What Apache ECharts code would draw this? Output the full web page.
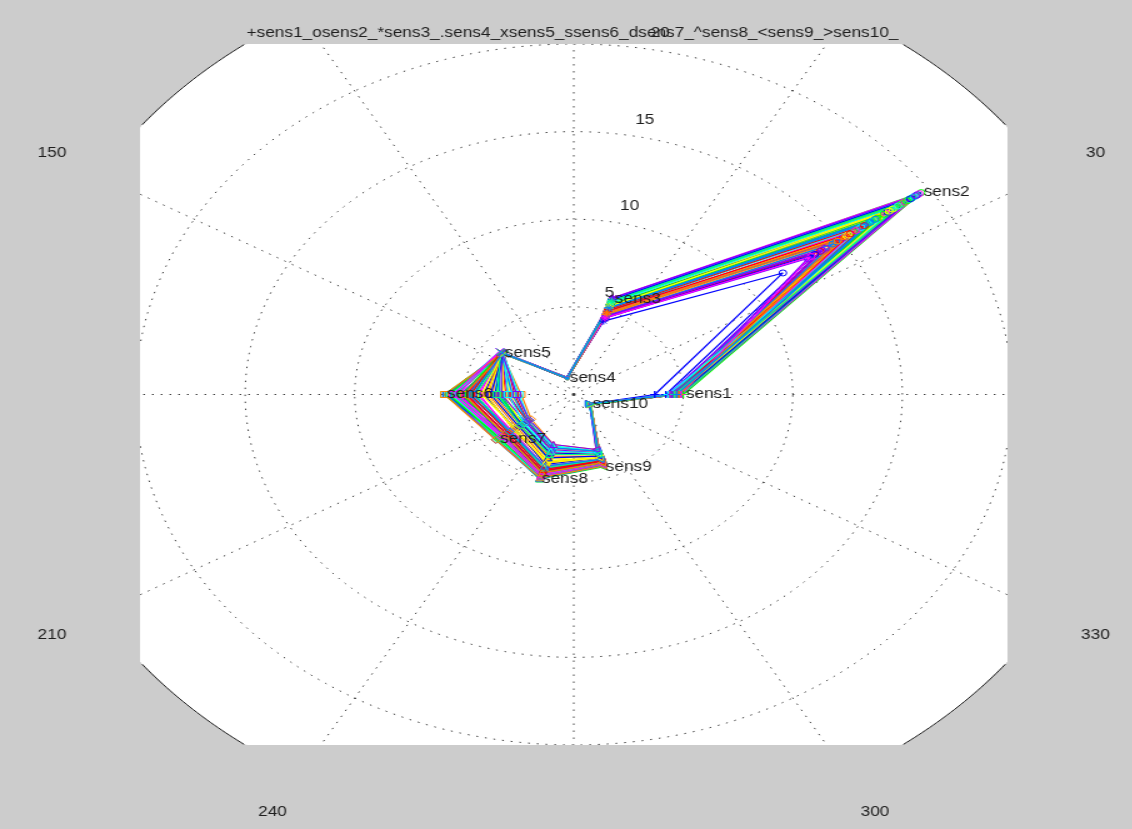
<!DOCTYPE html>
<html>
<head>
<meta charset="utf-8">
<script src="https://cdn.jsdelivr.net/npm/echarts@6/dist/echarts.min.js"></script>
<style>
  html, body { margin: 0; padding: 0; background: #cccccc; overflow: hidden; }
  #wrap { width: 1132px; height: 829px; overflow: hidden; background: #cccccc; }
  /* the figure is laid out narrow and widened 1.25x, so the polar grid shows as an ellipse */
  #chart { width: 906px; height: 829px; transform: scaleX(1.25); transform-origin: 0 0; }
</style>
</head>
<body>
<div id="wrap"><div id="chart"></div></div>
<script>
// ---- sensors, their spoke angles (degrees) and marker codes ----
const sensors = ['sens1', 'sens2', 'sens3', 'sens4', 'sens5', 'sens6', 'sens7', 'sens8', 'sens9', 'sens10'];
const sensorAngles = [0, 36, 72, 108, 144, 180, 216, 252, 288, 324];
const markers = ['+', 'o', '*', '.', 'x', 's', 'd', '^', '<', '>'];
const titleText = '+sens1_osens2_*sens3_.sens4_xsens5_ssens6_dsens7_^sens8_<sens9_>sens10_';

// ---- polar grid ticks ----
const radialTicks = [5, 10, 15, 20];
const rMax = 25;
const angleTicks = [0, 30, 60, 90, 120, 150, 180, 210, 240, 270, 300, 330];

// ---- plot box limits (data units) ----
const xLim = [-19.8, 19.8];
const yLim = [-20, 20];

// ---- radius of each sensor, one value per sweep ----
const sens1R = [5.0, 4.8, 4.6, 4.9, 4.7, 4.5, 4.8, 4.6, 4.9, 4.4, 4.7, 3.7, 4.5, 4.8, 4.6, 4.9, 4.7, 4.4, 4.8, 4.6,
                4.5, 4.9, 4.7, 4.6, 4.8, 4.5, 4.3, 4.7, 4.9, 4.6, 4.8, 4.2, 4.7, 4.6, 4.9, 4.4, 4.7, 4.8, 4.6, 4.5,
                4.8, 4.6, 4.9, 4.5, 4.7, 4.8, 4.4, 4.6, 4.9, 4.7, 4.5, 4.8, 4.6, 4.3, 4.9, 4.7, 4.5, 4.8, 4.6, 4.7];
const sens2R = [19.6, 18.9, 17.2, 19.3, 15.8, 17.2, 18.6, 14.5, 19.0, 16.8, 18.4, 11.8, 15.0, 19.2, 17.6, 18.8, 14.2, 16.0, 18.1, 16.3,
                15.8, 19.4, 13.9, 16.9, 18.7, 15.4, 15.2, 18.3, 19.1, 14.6, 17.1, 13.6, 18.5, 16.2, 19.5, 15.5, 13.2, 18.6, 16.8, 14.8,
                18.8, 17.7, 16.4, 19.2, 15.9, 18.0, 14.0, 14.9, 18.9, 16.7, 17.5, 19.0, 15.6, 18.3, 13.4, 17.8, 19.3, 15.3, 18.5, 17.0];
const sens3R = [5.7, 5.5, 5.0, 5.6, 4.8, 5.2, 5.6, 4.7, 5.7, 5.0, 5.5, 4.4, 4.9, 5.6, 5.2, 5.8, 4.7, 4.9, 5.4, 5.1,
                4.8, 5.7, 4.6, 5.1, 5.6, 4.9, 4.9, 5.4, 5.7, 4.7, 5.3, 4.6, 5.5, 5.1, 5.8, 4.9, 4.6, 5.6, 5.2, 5.0,
                5.6, 5.4, 5.1, 5.7, 4.9, 5.5, 4.7, 4.8, 5.6, 5.2, 5.4, 5.7, 5.0, 5.5, 4.6, 5.3, 5.8, 4.9, 5.6, 5.2];
const sens4R = [0.97, 1.0, 0.95, 1.02, 0.98, 0.96, 1.01, 0.99, 0.97, 1.03, 0.94, 1.0, 0.98, 0.96, 1.02, 0.99, 0.97, 1.01, 0.95, 1.0,
                0.98, 1.03, 0.96, 0.99, 1.01, 0.97, 1.0, 0.98, 0.95, 1.02, 0.96, 0.99, 1.01, 0.97, 1.0, 0.98, 1.03, 0.96, 0.99, 1.0,
                0.99, 0.96, 1.02, 0.98, 1.0, 0.97, 1.01, 0.95, 0.99, 1.03, 0.98, 0.96, 1.0, 0.97, 1.02, 0.99, 0.95, 1.01, 0.98, 1.0];
const sens5R = [4.03, 4.1, 3.95, 4.15, 4.0, 3.9, 4.12, 4.05, 3.98, 4.18, 3.92, 4.08, 4.02, 3.96, 4.14, 4.06, 3.9, 4.1, 4.0, 4.16,
                3.94, 4.04, 4.12, 3.98, 4.08, 4.0, 3.88, 4.14, 4.02, 3.96, 4.1, 4.06, 3.92, 4.18, 4.0, 4.04, 3.98, 4.12, 3.94, 4.08,
                4.06, 3.96, 4.12, 4.0, 4.16, 3.92, 4.08, 4.02, 3.9, 4.14, 4.04, 3.98, 4.1, 3.94, 4.18, 4.0, 4.06, 3.96, 4.12, 4.02];
const sens6R = [5.9, 5.4, 4.8, 3.6, 5.7, 4.2, 3.0, 5.1, 2.6, 4.5, 3.3, 5.8, 4.0, 2.8, 5.3, 3.8, 4.9, 2.4, 5.6, 3.4,
                4.6, 5.0, 3.1, 5.5, 4.3, 2.9, 5.2, 3.7, 4.7, 5.8, 3.5, 4.1, 2.7, 5.6, 4.4, 3.2, 5.0, 3.9, 5.4, 4.8,
                5.7, 3.6, 4.9, 2.5, 5.3, 4.0, 3.3, 5.9, 4.5, 2.8, 5.1, 3.8, 4.7, 3.0, 5.5, 4.2, 2.6, 5.0, 3.5, 4.6];
const sens7R = [4.3, 4.0, 3.6, 2.8, 4.4, 3.3, 2.6, 3.9, 2.5, 3.7, 3.0, 4.2, 3.4, 2.7, 4.1, 3.1, 3.8, 2.4, 4.3, 2.9,
                3.5, 4.0, 2.6, 4.2, 3.6, 2.5, 3.9, 3.0, 3.7, 4.4, 2.8, 3.3, 2.6, 4.1, 3.5, 2.9, 3.8, 3.2, 4.0, 3.6,
                4.2, 2.9, 3.8, 2.5, 4.0, 3.4, 2.7, 4.4, 3.6, 2.6, 3.9, 3.1, 3.7, 2.8, 4.1, 3.3, 2.5, 3.9, 3.0, 3.6];
const sens8R = [5.07, 4.8, 4.5, 3.6, 4.9, 4.2, 3.3, 4.7, 3.1, 4.4, 3.8, 5.0, 4.1, 3.4, 4.8, 3.9, 4.6, 3.0, 4.9, 3.5,
                4.3, 4.7, 3.2, 5.0, 4.4, 3.3, 4.6, 3.7, 4.5, 5.05, 3.6, 4.2, 3.4, 4.8, 4.3, 3.5, 4.7, 4.0, 4.9, 4.5,
                4.9, 3.5, 4.6, 3.1, 4.8, 4.0, 3.3, 5.0, 4.4, 3.2, 4.7, 3.8, 4.5, 3.4, 4.9, 4.1, 3.0, 4.7, 3.6, 4.3];
const sens9R = [4.35, 4.1, 3.9, 3.6, 4.2, 3.8, 3.5, 4.0, 3.4, 3.9, 3.7, 4.25, 3.8, 3.5, 4.1, 3.7, 4.0, 3.3, 4.2, 3.6,
                3.9, 4.1, 3.4, 4.3, 3.9, 3.5, 4.0, 3.7, 3.9, 4.3, 3.6, 3.8, 3.5, 4.2, 3.9, 3.6, 4.1, 3.8, 4.2, 4.0,
                4.2, 3.6, 4.0, 3.4, 4.1, 3.8, 3.5, 4.3, 3.9, 3.4, 4.1, 3.7, 4.0, 3.5, 4.2, 3.8, 3.3, 4.1, 3.6, 3.9];
const sens10R = [0.92, 0.95, 0.9, 0.97, 0.88, 0.93, 0.96, 0.9, 0.94, 0.87, 0.95, 0.91, 0.98, 0.89, 0.93, 0.96, 0.9, 0.94, 0.92, 0.88,
                 0.97, 0.91, 0.95, 0.89, 0.93, 0.96, 0.9, 0.94, 0.92, 0.87, 0.95, 0.91, 0.97, 0.9, 0.93, 0.96, 0.89, 0.94, 0.92, 0.95,
                 0.93, 0.9, 0.96, 0.88, 0.94, 0.91, 0.97, 0.89, 0.95, 0.92, 0.9, 0.96, 0.88, 0.94, 0.91, 0.97, 0.9, 0.93, 0.95, 0.89];

// sweep colours, cycled
const lineColors = ['#00ff00', '#0000ff', '#ff0000', '#00ffff', '#ff00ff', '#ffff00', '#8000ff', '#ff8000', '#00ff80', '#0080ff'];

const radii = [sens1R, sens2R, sens3R, sens4R, sens5R, sens6R, sens7R, sens8R, sens9R, sens10R];
const FONT = '13.8px "Liberation Sans", Arial, sans-serif';
const TEXT_COLOR = '#1e1e1e';
const FIGURE_BG = '#cccccc';

function toXY(r, deg) {
  const t = deg * Math.PI / 180;
  return [r * Math.cos(t), r * Math.sin(t)];
}
function clamp(v, lim) { return Math.max(lim[0], Math.min(lim[1], v)); }
function inBox(p) {
  return p[0] >= xLim[0] && p[0] <= xLim[1] && p[1] >= yLim[0] && p[1] <= yLim[1];
}

// marker code -> ECharts symbol
const markerShapes = {
  '+': { symbol: 'path://M5,0V10M0,5H10', size: 7, filled: false },
  'o': { symbol: 'circle', size: 6, filled: false },
  '*': { symbol: 'path://M5,0V10M0,5H10M1.5,1.5L8.5,8.5M8.5,1.5L1.5,8.5', size: 7, filled: false },
  '.': { symbol: 'circle', size: 3, filled: true },
  'x': { symbol: 'path://M0,0L10,10M10,0L0,10', size: 6, filled: false },
  's': { symbol: 'rect', size: 6, filled: false },
  'd': { symbol: 'diamond', size: 7, filled: false },
  '^': { symbol: 'triangle', size: 6, filled: false },
  '<': { symbol: 'path://M0,5L10,0L10,10Z', size: 6, filled: false },
  '>': { symbol: 'path://M10,5L0,0L0,10Z', size: 6, filled: false }
};

const series = [];

// background disc, dotted rings and spokes, all kept inside the plot box
series.push({
  type: 'custom',
  coordinateSystem: 'cartesian2d',
  data: [[0, 0]],
  clip: false,
  silent: true,
  z: 1,
  animation: false,
  renderItem: function (params, api) {
    const children = [];
    const dotted = { fill: null, stroke: '#3a3a3a', lineWidth: 1, lineDash: [1.4, 5.6] };
    const solid = { fill: null, stroke: '#1a1a1a', lineWidth: 1 };

    // disc of radius rMax intersected with the box
    const disc = [];
    for (let d = 0; d < 360; d += 0.5) {
      const p = toXY(rMax, d);
      disc.push(api.coord([clamp(p[0], xLim), clamp(p[1], yLim)]));
    }
    children.push({ type: 'polygon', shape: { points: disc }, style: { fill: '#ffffff', stroke: null } });

    // circle drawn only where it lies inside the box
    const arcs = function (r, style) {
      let run = [];
      for (let d = 0; d <= 360; d += 0.5) {
        const p = toXY(r, d);
        if (inBox(p)) {
          run.push(api.coord(p));
        } else if (run.length) {
          if (run.length > 1) children.push({ type: 'polyline', shape: { points: run }, style: style });
          run = [];
        }
      }
      if (run.length > 1) children.push({ type: 'polyline', shape: { points: run }, style: style });
    };
    radialTicks.forEach(function (r) { arcs(r, dotted); });

    // spokes, stopped at the box edge
    const c0 = api.coord([0, 0]);
    angleTicks.forEach(function (a) {
      const u = toXY(1, a);
      let len = rMax;
      if (Math.abs(u[0]) > 1e-9) len = Math.min(len, (u[0] > 0 ? xLim[1] : -xLim[0]) / Math.abs(u[0]));
      if (Math.abs(u[1]) > 1e-9) len = Math.min(len, (u[1] > 0 ? yLim[1] : -yLim[0]) / Math.abs(u[1]));
      const p = api.coord(toXY(len, a));
      children.push({ type: 'line', shape: { x1: c0[0], y1: c0[1], x2: p[0], y2: p[1] }, style: dotted });
    });

    arcs(rMax, solid);
    return { type: 'group', children: children };
  }
});

// one closed trace per sweep
const nSweeps = sens1R.length;
for (let i = 0; i < nSweeps; i++) {
  const c = lineColors[i % lineColors.length];
  const pts = sensorAngles.map(function (a, k) {
    const m = markerShapes[markers[k]];
    return {
      value: toXY(radii[k][i], a),
      symbol: m.symbol,
      symbolSize: m.size,
      itemStyle: m.filled ? { color: c, borderColor: c, borderWidth: 0 }
                          : { color: 'none', borderColor: c, borderWidth: 1 }
    };
  });
  pts.push(Object.assign({}, pts[0]));
  series.push({
    type: 'line',
    data: pts,
    showSymbol: true,
    lineStyle: { color: c, width: 1.2 },
    itemStyle: { color: c },
    silent: true,
    animation: false,
    z: 3
  });
}

// figure margin around the plot box, then the texts on top
series.push({
  type: 'custom',
  coordinateSystem: 'cartesian2d',
  data: [[0, 0]],
  clip: false,
  silent: true,
  z: 10,
  animation: false,
  renderItem: function (params, api) {
    const children = [];
    const tl = api.coord([xLim[0], yLim[1]]);
    const br = api.coord([xLim[1], yLim[0]]);
    const W = api.getWidth();
    const H = api.getHeight();
    children.push({ type: 'rect', shape: { x: 0, y: 0, width: W, height: tl[1] }, style: { fill: FIGURE_BG } });
    children.push({ type: 'rect', shape: { x: 0, y: br[1], width: W, height: H - br[1] }, style: { fill: FIGURE_BG } });
    children.push({ type: 'rect', shape: { x: 0, y: 0, width: tl[0], height: H }, style: { fill: FIGURE_BG } });
    children.push({ type: 'rect', shape: { x: br[0], y: 0, width: W - br[0], height: H }, style: { fill: FIGURE_BG } });

    const c0 = api.coord([0, 0]);
    children.push({
      type: 'text', x: c0[0] - 1, y: 33,
      style: { text: titleText, font: FONT, fill: TEXT_COLOR, align: 'center', verticalAlign: 'middle' }
    });
    angleTicks.forEach(function (a) {
      const p = api.coord(toXY(rMax * 1.1, a));
      children.push({
        type: 'text', x: p[0], y: p[1],
        style: { text: String(a), font: FONT, fill: TEXT_COLOR, align: 'center', verticalAlign: 'middle' }
      });
    });
    radialTicks.forEach(function (r) {
      const p = api.coord(toXY(r + 0.25, 82));
      children.push({
        type: 'text', x: p[0] + 12, y: p[1] - 3,
        style: { text: String(r), font: FONT, fill: TEXT_COLOR, align: 'left', verticalAlign: 'bottom' }
      });
    });
    sensors.forEach(function (name, k) {
      const p = api.coord(toXY(radii[k][0], sensorAngles[k]));
      children.push({
        type: 'text', x: p[0] + 2, y: p[1],
        style: { text: name, font: FONT, fill: TEXT_COLOR, align: 'left', verticalAlign: 'middle' }
      });
    });
    return { type: 'group', children: children };
  }
});

const chart = echarts.init(document.getElementById('chart'), null, { renderer: 'canvas' });
chart.setOption({
  backgroundColor: FIGURE_BG,
  animation: false,
  grid: { left: 112, right: 100, top: 44, bottom: 84 },
  xAxis: { type: 'value', min: xLim[0], max: xLim[1], show: false },
  yAxis: { type: 'value', min: yLim[0], max: yLim[1], show: false },
  series: series
});
</script>
</body>
</html>
